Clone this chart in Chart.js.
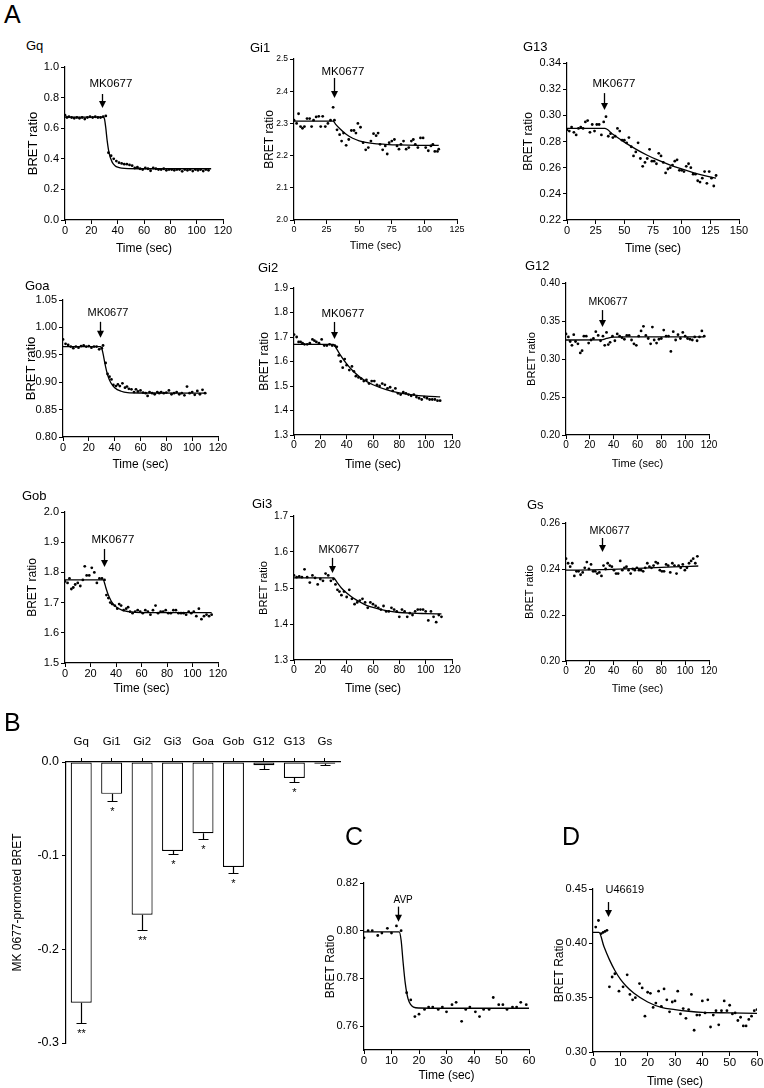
<!DOCTYPE html>
<html>
<head>
<meta charset="utf-8">
<script src="https://cdn.jsdelivr.net/npm/chart.js@4.4.1/dist/chart.umd.min.js"></script>
<style>
    body { margin: 0; background: #fff; width: 764px; height: 1088px; position: relative; overflow: hidden;
           font-family: "Liberation Sans", Arial, sans-serif; }
    canvas { position: absolute; }
    .lbl { position: absolute; color: #000; line-height: 1; white-space: nowrap; }
</style>
</head>
<body>
<script>
// ---- data: [time (sec), BRET ratio] ----
const gqDots = [[0,0.685],[1.5,0.67],[3,0.675],[5,0.67],[7,0.665],[9,0.67],[11,0.665],[13,0.67],[15,0.66],[17,0.67],[19,0.675],[21,0.67],[23,0.675],[25,0.67],[27,0.67],[29,0.675],[31,0.68],[33,0.44],[35,0.42],[37,0.40],[39,0.385],[41,0.375],[43,0.37],[45,0.365],[47,0.365],[49,0.36],[51,0.355],[53,0.34],[55,0.345],[57,0.335],[59,0.33],[61,0.34],[63,0.335],[65,0.322],[67,0.34],[69,0.335],[71,0.33],[73,0.33],[75,0.335],[77,0.325],[79,0.33],[81,0.33],[83,0.325],[85,0.33],[87,0.33],[89,0.318],[91,0.33],[93,0.325],[95,0.33],[97,0.32],[99,0.33],[101,0.325],[103,0.33],[105,0.32],[107,0.33],[109,0.325]];
const gqFit = [[0,0.672],[29,0.672],[30,0.66],[31,0.60],[32,0.52],[33,0.46],[34,0.42],[35,0.395],[36,0.375],[38,0.355],[40,0.345],[43,0.339],[48,0.336],[60,0.335],[111,0.335]];

const gi1Dots = [[0,2.31],[2,2.30],[3.5,2.33],[5,2.29],[6.5,2.285],[8,2.29],[10,2.315],[12,2.315],[13.5,2.29],[15,2.31],[17,2.32],[19,2.322],[20.5,2.29],[22,2.322],[24,2.29],[26,2.30],[28,2.31],[30,2.35],[31,2.31],[33,2.28],[35,2.265],[36.5,2.245],[38,2.27],[40,2.232],[42,2.25],[44,2.278],[46,2.278],[47.5,2.27],[49,2.30],[51,2.288],[53,2.24],[55,2.218],[57,2.225],[59,2.245],[61,2.268],[63,2.262],[64.5,2.27],[66,2.235],[68,2.218],[70,2.23],[71.5,2.205],[73,2.24],[75,2.245],[77,2.25],[79,2.23],[80.5,2.22],[82,2.235],[84,2.245],[86,2.22],[88,2.225],[90,2.245],[91.5,2.25],[93,2.235],[95,2.225],[97,2.255],[99,2.255],[101,2.225],[103,2.215],[105,2.23],[106.5,2.235],[108,2.213],[110,2.213],[111,2.22]];
const gi1Fit = [[0,2.307],[30,2.307],[32,2.297],[35,2.284],[40,2.266],[45,2.254],[50,2.246],[55,2.241],[60,2.238],[70,2.235],[80,2.233],[95,2.232],[111,2.232]];

const g13Dots = [[0,0.289],[2,0.288],[4,0.291],[6,0.287],[8,0.285],[10,0.29],[12,0.291],[14,0.29],[16,0.295],[18,0.296],[20,0.287],[22,0.293],[24,0.288],[26,0.293],[28,0.293],[30,0.285],[32,0.295],[34,0.299],[36,0.284],[38,0.286],[40,0.283],[42,0.284],[44,0.29],[46,0.288],[48,0.281],[50,0.281],[52,0.279],[54,0.283],[56,0.276],[58,0.269],[60,0.272],[62,0.279],[64,0.267],[66,0.261],[68,0.264],[70,0.267],[72,0.274],[74,0.265],[76,0.265],[78,0.263],[80,0.271],[82,0.269],[84,0.264],[86,0.256],[88,0.259],[90,0.26],[92,0.262],[94,0.265],[96,0.266],[98,0.258],[100,0.258],[102,0.257],[104,0.261],[106,0.263],[108,0.26],[110,0.255],[112,0.255],[114,0.25],[116,0.249],[118,0.252],[120,0.257],[122,0.248],[124,0.257],[126,0.252],[128,0.246],[130,0.254]];
const g13Fit = [[0,0.290],[33,0.290],[40,0.2855],[50,0.2795],[60,0.2742],[70,0.2695],[80,0.2655],[90,0.2620],[100,0.2590],[110,0.2563],[120,0.2540],[130,0.2520]];

const goaDots = [[0,0.978],[2,0.97],[4,0.968],[6,0.965],[8,0.962],[10,0.965],[12,0.963],[14,0.966],[16,0.967],[18,0.965],[20,0.966],[22,0.963],[24,0.965],[26,0.965],[28,0.96],[30,0.962],[31,0.967],[33,0.935],[34.5,0.915],[36,0.91],[37.5,0.905],[39,0.895],[41,0.893],[42.5,0.896],[44,0.893],[46,0.898],[48,0.89],[49.5,0.892],[51,0.888],[53,0.887],[55,0.882],[56.5,0.887],[58,0.883],[60,0.885],[62,0.881],[64,0.88],[65.5,0.875],[67,0.882],[69,0.88],[71,0.878],[73,0.882],[74.5,0.88],[76,0.882],[78,0.88],[80,0.881],[82,0.885],[84,0.878],[86,0.88],[88,0.882],[90,0.878],[92,0.88],[94,0.876],[96,0.892],[98,0.88],[100,0.882],[102,0.877],[104,0.884],[106,0.878],[108,0.886],[110,0.88]];
const goaFit = [[0,0.965],[29,0.965],[30,0.962],[31,0.952],[32,0.94],[33,0.928],[34,0.918],[35,0.91],[37,0.899],[40,0.89],[45,0.8835],[50,0.881],[60,0.8803],[111,0.880]];

const gi2Dots = [[0,1.71],[2,1.70],[3.5,1.68],[5,1.68],[6.5,1.675],[8,1.67],[10,1.67],[12,1.675],[14,1.69],[15.5,1.685],[17,1.68],[19,1.675],[21,1.69],[23,1.665],[25,1.665],[27,1.67],[29,1.665],[31,1.665],[32.5,1.66],[34,1.625],[35.5,1.60],[37,1.575],[38.5,1.61],[40,1.585],[42,1.565],[44,1.58],[45.5,1.56],[47,1.54],[49,1.535],[51,1.53],[53,1.52],[55,1.525],[57,1.51],[59,1.52],[61,1.52],[63,1.505],[65,1.50],[67,1.51],[69,1.505],[71,1.49],[73,1.495],[75,1.48],[77,1.49],[79,1.47],[81,1.465],[83,1.475],[85,1.47],[87,1.465],[89,1.46],[91,1.465],[93,1.455],[95,1.45],[97,1.445],[99,1.455],[101,1.45],[103,1.445],[105,1.445],[107,1.445],[109,1.44],[111,1.44]];
const gi2Fit = [[0,1.67],[30,1.67],[32,1.655],[35,1.628],[40,1.59],[45,1.56],[50,1.537],[55,1.519],[60,1.505],[70,1.485],[80,1.472],[90,1.464],[100,1.459],[111,1.456]];

const g12Dots = [[0,0.333],[2,0.329],[3.5,0.323],[5,0.318],[6.5,0.332],[8,0.323],[10,0.32],[12,0.308],[13.5,0.311],[15,0.33],[17,0.33],[19,0.321],[21,0.325],[23,0.327],[25,0.336],[27,0.331],[29,0.324],[31,0.33],[32.5,0.318],[34,0.335],[35.5,0.319],[37,0.322],[39,0.33],[41,0.324],[43,0.333],[45,0.33],[47,0.328],[49,0.326],[51,0.331],[53,0.331],[55,0.325],[57,0.32],[59,0.318],[61,0.33],[63,0.337],[65,0.343],[67,0.331],[69,0.327],[71,0.32],[72.5,0.342],[74,0.325],[76,0.321],[78,0.326],[80,0.327],[82,0.338],[84,0.33],[86,0.33],[88,0.31],[90,0.336],[92,0.325],[94,0.332],[96,0.327],[98,0.335],[100,0.33],[102,0.327],[104,0.326],[106,0.325],[108,0.329],[110,0.324],[112,0.329],[114,0.337],[116,0.33]];
const g12Fit = [[0,0.325],[30,0.3252],[34,0.327],[40,0.3287],[50,0.329],[116,0.329]];

const gobDots = [[0,1.77],[2,1.765],[3.5,1.78],[5,1.745],[6.5,1.75],[8,1.76],[10,1.765],[12,1.755],[14,1.775],[15.5,1.82],[17,1.79],[19,1.79],[21,1.815],[23,1.80],[25,1.765],[27,1.78],[29,1.78],[31,1.775],[32.5,1.725],[34,1.715],[35.5,1.70],[37,1.695],[39,1.69],[41,1.68],[42.5,1.695],[44,1.69],[46,1.675],[48,1.68],[49.5,1.685],[51,1.67],[53,1.665],[55,1.67],[57,1.675],[59,1.67],[61,1.665],[63,1.675],[65,1.67],[67,1.66],[69,1.675],[71,1.69],[73,1.665],[75,1.67],[77,1.67],[79,1.675],[81,1.665],[83,1.665],[85,1.675],[87,1.675],[89,1.665],[91,1.665],[93,1.665],[95,1.66],[97,1.67],[99,1.665],[101,1.67],[103,1.655],[105,1.68],[107,1.645],[109,1.655],[111,1.66],[113,1.655],[115,1.66]];
const gobFit = [[0,1.775],[30,1.775],[31,1.765],[32,1.75],[34,1.725],[36,1.707],[38,1.694],[40,1.686],[45,1.674],[50,1.67],[60,1.667],[115,1.667]];

const gi3Dots = [[0,1.535],[2,1.53],[4,1.532],[6,1.53],[8,1.552],[10,1.53],[12,1.515],[14,1.535],[16,1.528],[18,1.51],[20,1.525],[22,1.52],[24,1.54],[26,1.535],[28,1.52],[30,1.525],[31.5,1.51],[33,1.495],[34.5,1.49],[36,1.48],[38,1.49],[40,1.475],[42,1.495],[44,1.47],[46,1.455],[48,1.46],[50,1.465],[52,1.47],[54,1.46],[56,1.445],[58,1.46],[60,1.455],[62,1.45],[64,1.445],[66,1.44],[68,1.45],[70,1.435],[72,1.435],[74,1.445],[76,1.44],[78,1.435],[80,1.42],[82,1.44],[84,1.435],[86,1.42],[88,1.43],[90,1.425],[92,1.435],[94,1.44],[96,1.44],[98,1.44],[100,1.435],[102,1.41],[104,1.435],[106,1.42],[108,1.405],[110,1.425],[112,1.42]];
const gi3Fit = [[0,1.528],[30,1.528],[33,1.514],[36,1.500],[40,1.486],[45,1.472],[50,1.461],[55,1.452],[60,1.446],[70,1.437],[80,1.432],[90,1.430],[100,1.429],[112,1.428]];

const gsDots = [[0,0.2445],[1.75,0.2425],[3.5,0.241],[5.25,0.2425],[7,0.237],[8.75,0.239],[10.5,0.239],[12.25,0.2375],[14,0.2385],[15.75,0.2405],[17.5,0.243],[19.25,0.240],[21,0.242],[22.75,0.239],[24.5,0.239],[26.25,0.238],[28,0.2385],[29.75,0.237],[31.5,0.2415],[33.25,0.240],[35,0.2425],[36.75,0.2415],[38.5,0.241],[40.25,0.2395],[42,0.238],[43.75,0.238],[45.5,0.2435],[47.25,0.2395],[49,0.2405],[50.75,0.241],[52.5,0.2395],[54.25,0.238],[56,0.240],[57.75,0.2395],[59.5,0.2405],[61.25,0.2395],[63,0.2395],[64.75,0.239],[66.5,0.2405],[68.25,0.2425],[70,0.241],[71.75,0.2405],[73.5,0.2415],[75.25,0.243],[77,0.2425],[78.75,0.2395],[80.5,0.239],[82.25,0.239],[84,0.242],[85.75,0.2415],[87.5,0.2385],[89.25,0.2425],[91,0.2415],[92.75,0.238],[94.5,0.2415],[96.25,0.2405],[98,0.242],[99.75,0.2395],[101.5,0.2405],[103.25,0.2425],[105,0.2435],[106.75,0.2445],[108.5,0.2425],[110.25,0.2455]];
const gsFit = [[0,0.2395],[30,0.2397],[60,0.2403],[90,0.2409],[111,0.2413]];

const cDots = [[0,0.797],[1.5,0.800],[3,0.800],[5,0.798],[6.5,0.799],[8.5,0.801],[10,0.799],[11.8,0.802],[13.5,0.800],[15.5,0.774],[17,0.771],[18.5,0.764],[20,0.765],[22,0.767],[23.5,0.768],[25,0.768],[27,0.767],[28.5,0.768],[30,0.766],[32,0.769],[33.5,0.770],[35.5,0.762],[37,0.767],[38.5,0.768],[40.5,0.766],[42,0.764],[43.5,0.767],[45.5,0.767],[47,0.772],[49,0.769],[50.5,0.769],[52,0.767],[54,0.768],[55.5,0.768],[57,0.770],[59,0.769]];
const cFit = [[0,0.7995],[12.8,0.7995],[13.5,0.796],[14.2,0.787],[15,0.778],[16,0.7715],[17,0.769],[18,0.768],[20,0.7676],[30,0.7675],[60,0.7675]];

const dDots = [[1,0.415],[2,0.421],[3,0.409],[3.7,0.410],[4.4,0.411],[5.1,0.412],[6,0.360],[7,0.369],[8,0.372],[9.5,0.356],[11,0.360],[12.5,0.371],[13.5,0.353],[14.5,0.348],[15.5,0.350],[17,0.363],[18,0.359],[19,0.333],[20,0.355],[21,0.354],[22,0.341],[23,0.345],[24,0.356],[25,0.342],[26,0.358],[27,0.348],[28,0.337],[29,0.346],[30,0.347],[31,0.356],[32,0.335],[33,0.340],[34,0.331],[35,0.339],[36,0.353],[37,0.320],[38,0.334],[39,0.334],[40,0.347],[41,0.336],[42,0.348],[43,0.323],[44,0.334],[45,0.338],[46,0.325],[47,0.338],[48,0.347],[49,0.338],[50,0.343],[51,0.335],[52,0.336],[53,0.329],[54,0.332],[55,0.324],[56,0.324],[57,0.330],[58,0.333],[59,0.338],[60,0.339]];
const dFit = [[0,0.41],[2.2,0.41],[4,0.397],[6,0.385],[8,0.375],[10,0.367],[12,0.361],[15,0.354],[20,0.346],[25,0.341],[30,0.339],[35,0.3375],[40,0.3365],[50,0.336],[60,0.3355]];

// panel B
const barLabels = ['Gq', 'Gi1', 'Gi2', 'Gi3', 'Goa', 'Gob', 'G12', 'G13', 'Gs'];
const barMeans = [-0.257, -0.034, -0.163, -0.095, -0.076, -0.112, -0.0035, -0.017, -0.002];
const barSem = [0.022, 0.008, 0.016, 0.003, 0.006, 0.006, 0.0035, 0.004, 0.0015];
const barStars = ['**', '*', '**', '*', '*', '*', '', '*', ''];

const FONT = '"Liberation Sans", Arial, sans-serif';
Chart.defaults.font.family = FONT;
Chart.defaults.color = '#000';

// draws the agonist arrow + label above a given point
const arrowPlugin = {
    id: 'arrowNote',
    afterDatasetsDraw(chart, args, o) {
        if (!o || !o.label) return;
        const { ctx, scales: { x, y } } = chart;
        const px = Math.round(x.getPixelForValue(o.x)) + 0.5;
        const py = y.getPixelForValue(o.y);
        ctx.save();
        ctx.strokeStyle = '#000'; ctx.fillStyle = '#000'; ctx.lineWidth = 1.3;
        ctx.beginPath(); ctx.moveTo(px, py - o.len); ctx.lineTo(px, py - 6); ctx.stroke();
        ctx.beginPath(); ctx.moveTo(px - 3.5, py - 7); ctx.lineTo(px + 3.5, py - 7); ctx.lineTo(px, py); ctx.closePath(); ctx.fill();
        ctx.font = o.size + 'px ' + FONT;
        ctx.textBaseline = 'alphabetic'; ctx.textAlign = 'left';
        ctx.fillText(o.label, px + o.dx, py - o.len - o.gap);
        ctx.restore();
    }
};

function addCanvas(left, top, w, h) {
    const cv = document.createElement('canvas');
    cv.width = w; cv.height = h;
    cv.style.left = left + 'px'; cv.style.top = top + 'px';
    document.body.appendChild(cv);
    return cv;
}

function axisBase(tickSize) {
    return {
        grid: { drawOnChartArea: false, drawTicks: true, tickLength: 4, color: '#000', lineWidth: 1 },
        border: { display: true, color: '#000', width: 1.2 },
        ticks: { font: { size: tickSize }, color: '#000', padding: 2, maxRotation: 0, autoSkip: false }
    };
}

function scatterPanel(p) {
    const yLh = p.yFont * 1.2, xLh = p.xFont * 1.2;
    // 'middle' baseline sits the glyphs a touch off centre, nudge to match
    const left = Math.round(p.yTitleX + 2 - yLh / 2);
    const top = p.t - 12;
    const right = p.r + 16;
    const bottom = Math.round(p.xTitleY + 3 + xLh / 2);
    const cv = addCanvas(left, top, right - left, bottom - top);

    const xAxis = axisBase(p.xTick);
    Object.assign(xAxis, {
        type: 'linear', min: 0, max: p.xMax,
        afterFit: s => { s.height = bottom - p.b; },
        title: { display: true, text: 'Time (sec)', font: { size: p.xFont }, color: '#000', padding: 0 }
    });
    xAxis.ticks.stepSize = p.xStep;
    xAxis.ticks.padding = 0;

    const yAxis = axisBase(p.yTick);
    Object.assign(yAxis, {
        type: 'linear', min: p.yMin, max: p.yMax,
        afterFit: s => { s.width = p.l - left; },
        title: { display: true, text: p.yTitle || 'BRET ratio', font: { size: p.yFont }, color: '#000', padding: 0 }
    });
    yAxis.ticks.stepSize = p.yStep;
    yAxis.ticks.callback = v => Number(v).toFixed(p.dec);
    if (p.yTicks) yAxis.afterBuildTicks = s => { s.ticks = p.yTicks.map(v => ({ value: v })); };

    new Chart(cv, {
        type: 'scatter',
        data: {
            datasets: [
                { data: p.dots.map(([x, y]) => ({ x, y })), pointRadius: 1.4, pointBackgroundColor: '#000', pointBorderWidth: 0, showLine: false },
                { data: p.fit.map(([x, y]) => ({ x, y })), showLine: true, pointRadius: 0, borderColor: '#000', borderWidth: 1.3, cubicInterpolationMode: 'monotone', fill: false }
            ]
        },
        options: {
            responsive: false, animation: false, devicePixelRatio: 1,
            layout: { padding: { top: 12, right: 16, left: 0, bottom: 0 } },
            plugins: { legend: { display: false }, tooltip: { enabled: false }, arrowNote: p.note },
            scales: { x: xAxis, y: yAxis }
        },
        plugins: [arrowPlugin]
    });
}

const panelDefs = [
    { dots: gqDots, fit: gqFit, xMax: 120, xStep: 20, yMin: 0, yMax: 1, yStep: 0.2, dec: 1,
      l: 65, t: 67, r: 223, b: 220, yTitleX: 32, xTitleY: 246, yFont: 13, xFont: 12, yTick: 11, xTick: 11,
      note: { x: 28, y: 0.732, len: 14, gap: 7, dx: -13, size: 11.5, label: 'MK0677' } },
    { dots: gi1Dots, fit: gi1Fit, xMax: 125, xStep: 25, yMin: 2.0, yMax: 2.5, yStep: 0.1, dec: 1,
      l: 294, t: 59, r: 457, b: 220, yTitleX: 267, xTitleY: 243, yFont: 12, xFont: 11, yTick: 8.5, xTick: 9,
      note: { x: 30.7, y: 2.379, len: 20, gap: 3, dx: -13, size: 11.5, label: 'MK0677' } },
    { dots: g13Dots, fit: g13Fit, xMax: 150, xStep: 25, yMin: 0.22, yMax: 0.34, yStep: 0.02, dec: 2,
      l: 567, t: 63, r: 739, b: 220, yTitleX: 526, xTitleY: 246, yFont: 12, xFont: 12, yTick: 11, xTick: 11,
      note: { x: 32.3, y: 0.304, len: 17, gap: 6, dx: -12, size: 11.5, label: 'MK0677' } },
    { dots: goaDots, fit: goaFit, xMax: 120, xStep: 20, yMin: 0.80, yMax: 1.05, yStep: 0.05, dec: 2,
      l: 63, t: 300, r: 218, b: 437, yTitleX: 30, xTitleY: 462, yFont: 13, xFont: 12, yTick: 11, xTick: 11,
      note: { x: 28.6, y: 0.981, len: 16, gap: 6, dx: -13, size: 11, label: 'MK0677' } },
    { dots: gi2Dots, fit: gi2Fit, xMax: 120, xStep: 20, yMin: 1.3, yMax: 1.9, yStep: 0.1, dec: 1,
      l: 294, t: 288, r: 452, b: 435, yTitleX: 262, xTitleY: 462, yFont: 12, xFont: 12, yTick: 10, xTick: 10.5,
      note: { x: 30.4, y: 1.692, len: 17, gap: 5, dx: -13, size: 11.5, label: 'MK0677' } },
    { dots: g12Dots, fit: g12Fit, xMax: 120, xStep: 20, yMin: 0.20, yMax: 0.40, yStep: 0.05, dec: 2,
      l: 566, t: 283, r: 709, b: 435, yTitleX: 530, xTitleY: 461, yFont: 11, xFont: 11, yTick: 10, xTick: 10,
      note: { x: 30.2, y: 0.342, len: 17, gap: 5, dx: -14, size: 10.5, label: 'MK0677' } },
    { dots: gobDots, fit: gobFit, xMax: 120, xStep: 20, yMin: 1.5, yMax: 2.0, yStep: 0.1, dec: 1,
      l: 65, t: 512, r: 218, b: 663, yTitleX: 30, xTitleY: 686, yFont: 12, xFont: 12, yTick: 11, xTick: 11,
      note: { x: 30.6, y: 1.818, len: 18, gap: 6, dx: -13, size: 11.5, label: 'MK0677' } },
    { dots: gi3Dots, fit: gi3Fit, xMax: 120, xStep: 20, yMin: 1.3, yMax: 1.7, yStep: 0.1, dec: 1,
      l: 294, t: 516, r: 452, b: 660, yTitleX: 262, xTitleY: 686, yFont: 11, xFont: 12, yTick: 10, xTick: 10.5,
      note: { x: 28.9, y: 1.542, len: 15, gap: 5, dx: -14, size: 11, label: 'MK0677' } },
    { dots: gsDots, fit: gsFit, xMax: 120, xStep: 20, yMin: 0.20, yMax: 0.26, yStep: 0.02, dec: 2,
      l: 566, t: 523, r: 709, b: 661, yTitleX: 528, xTitleY: 686, yFont: 11, xFont: 11, yTick: 10, xTick: 10,
      note: { x: 30.2, y: 0.2474, len: 14, gap: 4, dx: -13, size: 10.8, label: 'MK0677' } },
    { dots: cDots, fit: cFit, xMax: 60, xStep: 10, yMin: 0.75, yMax: 0.82, yStep: 0.02, dec: 2, yTicks: [0.76, 0.78, 0.80, 0.82],
      yTitle: 'BRET Ratio',
      l: 364, t: 883, r: 529, b: 1050, yTitleX: 328, xTitleY: 1073, yFont: 12, xFont: 12, yTick: 11, xTick: 11.5,
      note: { x: 12.4, y: 0.8038, len: 15, gap: 4, dx: -5, size: 10, label: 'AVP' } },
    { dots: dDots, fit: dFit, xMax: 60, xStep: 10, yMin: 0.30, yMax: 0.45, yStep: 0.05, dec: 2,
      yTitle: 'BRET Ratio',
      l: 593, t: 889, r: 757, b: 1052, yTitleX: 557, xTitleY: 1079, yFont: 12, xFont: 12, yTick: 11, xTick: 11.5,
      note: { x: 5.5, y: 0.4242, len: 15, gap: 9, dx: -3, size: 11, label: 'U46619' } }
];
panelDefs.forEach(scatterPanel);

// ---- panel B: bars hanging from zero, x axis on top ----
const errPlugin = {
    id: 'errStars',
    afterDatasetsDraw(chart) {
        const { ctx } = chart;
        const y = chart.scales.y;
        ctx.save();
        ctx.strokeStyle = '#000'; ctx.fillStyle = '#000'; ctx.lineWidth = 1.2;
        ctx.font = '11px ' + FONT; ctx.textAlign = 'center'; ctx.textBaseline = 'alphabetic';
        chart.getDatasetMeta(0).data.forEach((bar, i) => {
            const x = Math.round(bar.x) + 0.5;
            const y0 = y.getPixelForValue(barMeans[i]);
            const y1 = Math.round(y.getPixelForValue(barMeans[i] - barSem[i])) + 0.5;
            ctx.beginPath();
            ctx.moveTo(x, y0); ctx.lineTo(x, y1);
            ctx.moveTo(x - 5, y1); ctx.lineTo(x + 5, y1);
            ctx.stroke();
            if (barStars[i]) ctx.fillText(barStars[i], x, y1 + 13);
        });
        ctx.restore();
    }
};

(function () {
    const plot = { l: 66, t: 762, r: 340, b: 1043 };
    const left = 10, top = 725, right = plot.r + 10, bottom = plot.b + 17;
    const cv = addCanvas(left, top, right - left, bottom - top);
    const xAxis = axisBase(11.5);
    Object.assign(xAxis, { position: 'top', afterFit: s => { s.height = plot.t - top; } });
    xAxis.grid.offset = false;
    xAxis.ticks.padding = 9;
    const yAxis = axisBase(12.5);
    Object.assign(yAxis, {
        min: -0.3, max: 0,
        afterFit: s => { s.width = plot.l - left; },
        title: { display: true, text: 'MK 0677-promoted BRET', font: { size: 12 }, color: '#000', padding: 0 }
    });
    yAxis.ticks.stepSize = 0.1;
    yAxis.ticks.padding = 3;
    yAxis.ticks.callback = v => (Math.abs(v) < 1e-9 ? '0.0' : Number(v).toFixed(1));

    new Chart(cv, {
        type: 'bar',
        data: {
            labels: barLabels,
            datasets: [{ data: barMeans, backgroundColor: '#fff', borderColor: '#000', borderWidth: 1.2,
                         borderSkipped: false, barPercentage: 0.69, categoryPercentage: 1 }]
        },
        options: {
            responsive: false, animation: false, devicePixelRatio: 1,
            layout: { padding: { top: 0, right: 10, left: 0, bottom: 17 } },
            plugins: { legend: { display: false }, tooltip: { enabled: false } },
            scales: { x: xAxis, y: yAxis }
        },
        plugins: [errPlugin]
    });
})();

// ---- panel letters and subplot titles ----
const titles = [
    ['A', 4, 23, 25], ['B', 4, 731, 25], ['C', 345, 845, 25], ['D', 562, 845, 25],
    ['Gq', 26, 50, 13], ['Gi1', 250, 52, 13], ['G13', 523, 51, 13],
    ['Goa', 25, 290, 13], ['Gi2', 258, 272, 13], ['G12', 525, 270, 13],
    ['Gob', 22, 500, 13], ['Gi3', 252, 508, 13], ['Gs', 527, 509, 13]
];
titles.forEach(([text, x, base, size]) => {
    const d = document.createElement('div');
    d.className = 'lbl';
    d.textContent = text;
    d.style.fontSize = size + 'px';
    d.style.left = x + 'px';
    d.style.top = Math.round(base - 0.85 * size) + 'px';
    document.body.appendChild(d);
});
</script>
</body>
</html>
